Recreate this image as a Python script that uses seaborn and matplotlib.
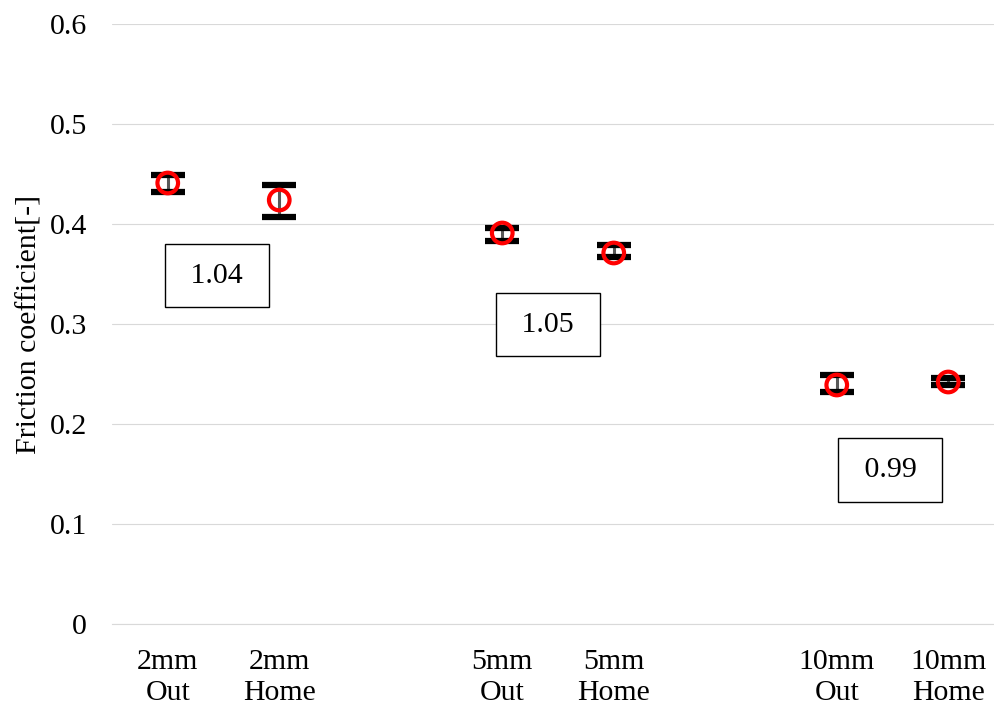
# Friction coefficient per pipe size / direction, min-max range with mean marker.
import matplotlib

matplotlib.use("Agg")
import matplotlib.pyplot as plt
import numpy as np
import pandas as pd
import seaborn as sns

# slot order on the x axis (blank slots separate the groups)
order = ["2mm\nOut", "2mm\nHome", "", "5mm\nOut", "5mm\nHome", " ", "10mm\nOut", "10mm\nHome"]
labels = ["2mm\nOut", "2mm\nHome", "5mm\nOut", "5mm\nHome", "10mm\nOut", "10mm\nHome"]
mean = [0.441, 0.424, 0.391, 0.371, 0.239, 0.242]
low = [0.432, 0.407, 0.3835, 0.3675, 0.232, 0.239]
high = [0.449, 0.439, 0.3965, 0.379, 0.249, 0.246]
ratios = ["1.04", "1.05", "0.99"]

df = pd.DataFrame({"label": labels, "mean": mean, "low": low, "high": high})
df["pos"] = [order.index(l) for l in df["label"]]

sns.set_theme(style="white")
plt.rcParams["font.family"] = ["Liberation Serif", "DejaVu Serif"]
plt.rcParams["text.color"] = "black"
plt.rcParams["axes.labelcolor"] = "black"
FS = 21.5

fig = plt.figure(figsize=(9.95, 7.11), dpi=100)
ax = fig.add_axes([112 / 995, 87 / 711, 892 / 995, 600 / 711])

ax.set_ylim(0, 0.6)
ax.set_xlim(-0.5, len(order) - 0.5)
ax.set_yticks(np.arange(0, 0.61, 0.1))
ax.set_yticklabels(["0"] + [f"{v:.1f}" for v in np.arange(0.1, 0.61, 0.1)])
ax.set_xticks(range(len(order)))
ax.set_xticklabels(order, linespacing=1.25)
ax.grid(axis="y", color="#d9d9d9", lw=0.8)
ax.set_axisbelow(True)
for s in ["top", "right", "left"]:
    ax.spines[s].set_visible(False)
ax.spines["bottom"].set_color("#d9d9d9")
ax.spines["bottom"].set_linewidth(0.8)
ax.tick_params(axis="both", length=0, labelsize=FS, colors="black")
ax.tick_params(axis="y", pad=18)
ax.tick_params(axis="x", pad=18)

# min-max range: thin grey stem, thick black caps
_, caps, bars = ax.errorbar(df["pos"], df["mean"],
                            yerr=[df["mean"] - df["low"], df["high"] - df["mean"]],
                            fmt="none", ecolor="#595959", elinewidth=2.2,
                            capsize=12.5, capthick=4.5, zorder=2)
for c in caps:
    c.set_color("black")
    c.set_markeredgecolor("black")

sns.scatterplot(data=df, x="pos", y="mean", ax=ax, marker="o", s=220,
                facecolor="none", edgecolor="red", linewidth=3.0, zorder=3)
ax.set_xlabel("")
ax.set_ylabel("Friction coefficient[-]", fontsize=FS)
ax.yaxis.set_label_coords(-0.078, 0.5)

# ratio boxes (Home / Out)
for txt, x, y in zip(ratios, [0.44, 3.41, 6.48], [0.3485, 0.2995, 0.154]):
    ax.text(x, y, f" {txt} ", ha="center", va="center", fontsize=FS, zorder=4,
            bbox=dict(boxstyle="square,pad=0.62", fc="white", ec="black", lw=1.0))

fig.savefig("out.png", dpi=100)
